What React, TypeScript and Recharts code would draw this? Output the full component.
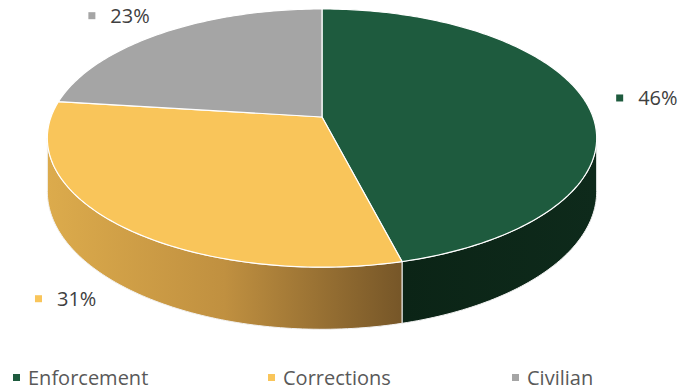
import { Legend, Pie, PieChart } from "recharts"

const categories = ["Enforcement", "Corrections", "Civilian"]
const shares = [46, 31, 23]
const topColors = ["#1E5B3E", "#F9C55A", "#A5A5A5"]
// side wall gradients (left -> right)
const wallColors: Record<string, string[]> = {
  Enforcement: ["#0b2416", "#0e2a1b"],
  Corrections: ["#dcab4c", "#c09040", "#765628"],
  Civilian: ["#8a8a8a", "#6a6a6a"],
}

const data = categories.map((name, i) => ({ name, value: shares[i], fill: topColors[i] }))

// fake 3D: squash + a bit of perspective, like the excel 3-D pie
const CX = 322
const CY = 117
const R = 271
const TILT = 0.4638
const PERSP = 0.163
const DEPTH = 52
const EDGE = (Math.asin(PERSP) * 180) / Math.PI // silhouette angle

function project(cx: number, cy: number, r: number, deg: number) {
  const a = (deg * Math.PI) / 180
  const s = Math.sin(a)
  const c = Math.cos(a)
  const d = 1 + PERSP * s
  return { x: cx + (r * c) / d, y: cy - (r * TILT * s) / d, d, s, c }
}

function sample(from: number, to: number) {
  const n = Math.max(2, Math.ceil(Math.abs(to - from)))
  const out: number[] = []
  for (let i = 0; i <= n; i++) out.push(from + ((to - from) * i) / n)
  return out
}

const TopSlice = (props: any) => {
  const { cx, cy, outerRadius, startAngle, endAngle, fill } = props
  const pts = sample(startAngle, endAngle).map((a) => project(cx, cy, outerRadius, a))
  const d = `M${cx},${cy}` + pts.map((p) => `L${p.x},${p.y}`).join("") + "Z"
  return <path d={d} fill={fill} stroke="#ffffff" strokeWidth={1.2} strokeLinejoin="round" />
}

const WallSlice = (props: any) => {
  const { cx, cy, outerRadius, startAngle, endAngle } = props
  const name = props.payload?.name ?? props.name
  // only the front of the cylinder is visible
  const hi = Math.min(startAngle, -EDGE)
  const lo = Math.max(endAngle, -180 + EDGE)
  if (lo >= hi) return <g />
  const top = sample(hi, lo).map((a) => project(cx, cy, outerRadius, a))
  const bottom = sample(lo, hi).map((a) => {
    const p = project(cx, cy, outerRadius, a)
    return { x: p.x, y: p.y + DEPTH / p.d }
  })
  const d =
    `M${top[0].x},${top[0].y}` +
    top.map((p) => `L${p.x},${p.y}`).join("") +
    bottom.map((p) => `L${p.x},${p.y}`).join("") +
    "Z"
  const cols = wallColors[name] || ["#666", "#444"]
  const id = `wall-${name}`
  return (
    <g>
      <defs>
        <linearGradient id={id} x1="0" y1="0" x2="1" y2="0">
          {cols.map((c, i) => (
            <stop key={i} offset={i / (cols.length - 1)} stopColor={c} />
          ))}
        </linearGradient>
      </defs>
      <path d={d} fill={`url(#${id})`} stroke="#f2f2f2" strokeWidth={1} strokeLinejoin="round" />
    </g>
  )
}

const renderLabel = (props: any) => {
  const { cx, cy, outerRadius, midAngle, value, index } = props
  const p = project(cx, cy, outerRadius * 1.2, midAngle)
  let y = p.y
  if (p.s < 0) y += (DEPTH / p.d) * 0.9
  const tx = p.c > 0 ? p.x : p.x - 20
  return (
    <g>
      <rect x={tx - 22} y={y - 4} width={7} height={7} fill={topColors[index]} />
      <text x={tx} y={y + 7} fill="#404040" fontSize={20} fontFamily="Open Sans" textAnchor="start">
        {`${value}%`}
      </text>
    </g>
  )
}

const renderLegend = (props: any) => {
  const payload = (props.payload || [])
    .filter((p: any) => p.type !== "none")
    .slice()
    .sort((a: any, b: any) => categories.indexOf(a.value) - categories.indexOf(b.value))
  const widths = [255, 244, 160]
  return (
    <div style={{ display: "flex", paddingLeft: 13, fontFamily: "Open Sans", fontSize: 20, color: "#595959", lineHeight: "27px" }}>
      {payload.map((entry: any, i: number) => (
        <div key={entry.value} style={{ width: widths[i], display: "flex", alignItems: "center" }}>
          <span
            style={{
              display: "inline-block",
              width: 7,
              height: 7,
              background: topColors[categories.indexOf(entry.value)],
              marginRight: 8,
            }}
          />
          <span>{entry.value}</span>
        </div>
      ))}
    </div>
  )
}

export default function App() {
  return (
    <div style={{ position: "absolute", left: 0, top: 0, background: "#fff" }}>
      <PieChart width={680} height={390} margin={{ top: 0, right: 0, bottom: 0, left: 0 }}>
        <Pie
          data={data}
          dataKey="value"
          nameKey="name"
          cx={CX}
          cy={CY}
          outerRadius={R}
          startAngle={90}
          endAngle={-270}
          legendType="none"
          shape={WallSlice}
          isAnimationActive={false}
        />
        <Pie
          data={data}
          dataKey="value"
          nameKey="name"
          cx={CX}
          cy={CY}
          outerRadius={R}
          startAngle={90}
          endAngle={-270}
          legendType="square"
          shape={TopSlice}
          label={renderLabel}
          labelLine={false}
          isAnimationActive={false}
        />
        <Legend
          content={renderLegend}
          wrapperStyle={{ position: "absolute", left: 0, top: 364, width: 680, height: 27 }}
        />
      </PieChart>
    </div>
  )
}
